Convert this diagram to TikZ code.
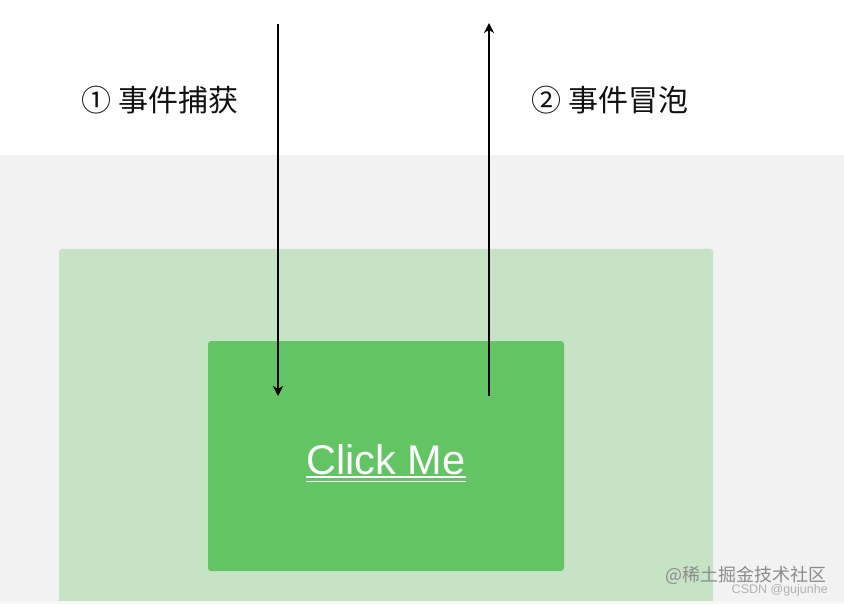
\documentclass[tikz,border=0pt]{standalone}
\usepackage{fontspec}
\setmainfont{Liberation Sans}
\newfontfamily\cjk{Noto Sans CJK SC}
\usetikzlibrary{arrows.meta}
\definecolor{bggray}{HTML}{F2F2F2}
\definecolor{outergreen}{HTML}{C6E3C6}
\definecolor{innergreen}{HTML}{62C462}
\definecolor{labelink}{HTML}{111111}
\tikzset{
  lbl/.style={font=\cjk\fontsize{30}{34}\selectfont, text=labelink, inner sep=0pt},
  flow/.style={line width=1.6pt, draw=black, -{Stealth[length=10pt,width=10pt,inset=3pt]}},
  mark1/.style={font=\cjk\fontsize{18}{21}\selectfont, text=black!45, inner sep=0pt},
  mark2/.style={font=\fontsize{12.5}{14}\selectfont, text=black!30, inner sep=0pt}
}
\begin{document}
\begin{tikzpicture}[x=1pt,y=-1pt]
\useasboundingbox (0,0) rectangle (844,604);
\fill[white] (0,0) rectangle (844,604);
\fill[bggray] (0,155) rectangle (844,601);
\fill[outergreen, rounded corners=3pt] (59,249) rectangle (713,620);
\fill[bggray!60!white] (0,601) rectangle (844,604);
\node[fill=innergreen, rounded corners=3pt, minimum width=356pt, minimum height=230pt, inner sep=0pt] (btn) at (386,456) {};
\node[font=\fontsize{41.5}{46}\selectfont, text=white, inner sep=0pt, anchor=base] (click) at (386,474) {Click Me};
\draw[white, line width=1.6pt] ([yshift=-3pt]click.base west) -- ([yshift=-3pt]click.base east);
\draw[white, line width=1.6pt] ([yshift=-7.5pt]click.base west) -- ([yshift=-7.5pt]click.base east);
\coordinate (capS) at (278,24);
\coordinate (capE) at (278,396);
\coordinate (bubS) at (489,396);
\coordinate (bubE) at (489,23);
\draw[flow] (capS) -- (capE);
\draw[flow] (bubS) -- (bubE);
\node[lbl] (cap) at (160,100) {① 事件捕获};
\node[lbl] (bub) at (610,100) {② 事件冒泡};
\node[mark1, anchor=east] (wm1) at (827,575) {@稀土掘金技术社区};
\node[mark2, anchor=east] (wm2) at (828,590) {CSDN @gujunhe};
\end{tikzpicture}
\end{document}
